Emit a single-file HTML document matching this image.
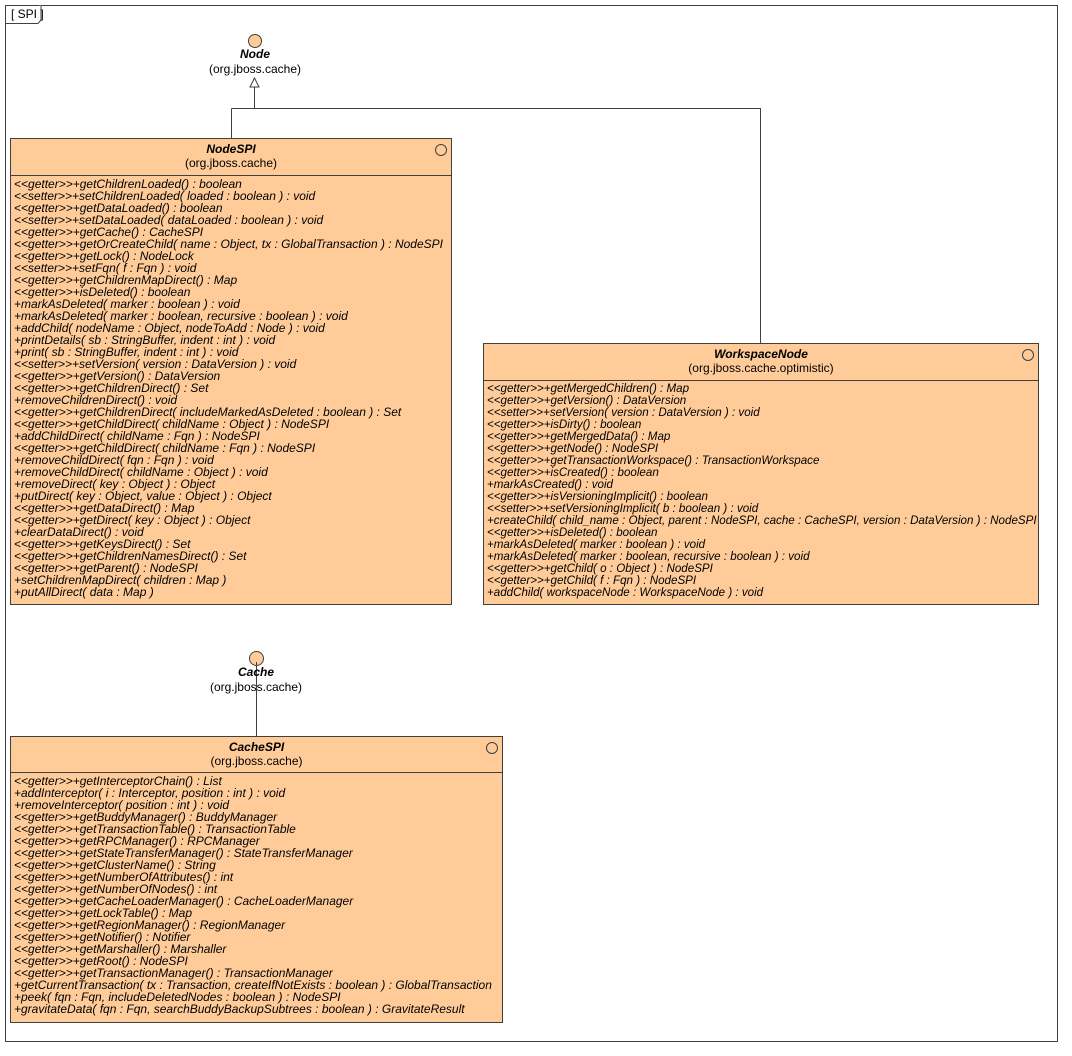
<!DOCTYPE html>
<html><head><meta charset="utf-8"><style>
body{margin:0;width:1072px;height:1056px;background:#fff;position:relative;overflow:hidden;font-family:"Liberation Sans",sans-serif;}
.a{position:absolute}
.box{position:absolute;background:#ffcc99;border:1px solid #404040;box-sizing:border-box}
.hd{position:absolute;left:0;right:0;text-align:center;font-size:12px;color:#000}
.nm{font-weight:bold;font-style:italic}
.sep{position:absolute;left:0;right:0;border-top:1px solid #404040}
.ops{position:absolute;left:3px;font-size:12px;font-style:italic;line-height:12px;white-space:pre;color:#000}
.ic{position:absolute;width:12px;height:12px;border:1px solid #404040;border-radius:50%;box-sizing:border-box}
.ln{position:absolute;background:#404040}
</style></head><body>
<div class="a" style="left:5px;top:5px;width:1053px;height:1037px;border:1px solid #404040;box-sizing:border-box"></div>
<svg class="a" style="left:5px;top:5px" width="40" height="20"><path d="M0.5 18.5 H33 L36 15 V0" fill="#fff" stroke="#404040"/></svg>
<div class="a" style="left:11px;top:7px;font-size:12px">[ SPI ]</div>

<!-- Node interface -->
<div class="a" style="left:248px;top:34px;width:14px;height:14px;border-radius:50%;background:#ffcc99;border:1px solid #404040;box-sizing:border-box"></div>
<div class="a nm" style="left:155px;top:47px;width:200px;text-align:center;font-size:12px">Node</div>
<div class="a" style="left:155px;top:62px;width:200px;text-align:center;font-size:12px">(org.jboss.cache)</div>
<svg class="a" style="left:0;top:0" width="1072" height="1056">
<path d="M254.5 78 L250 87 L259 87 Z" fill="#fff" stroke="#404040"/>
<path d="M254.5 87 V108.5 M231.5 108.5 H760.5 V343 M231.5 108.5 V138" fill="none" stroke="#404040"/>
<path d="M256.5 662 V736" fill="none" stroke="#404040"/>
</svg>

<!-- NodeSPI -->
<div class="box" style="left:10px;top:138px;width:442px;height:467px">
<div class="ic" style="left:424px;top:5px"></div>
<div class="hd nm" style="top:3px">NodeSPI</div>
<div class="hd" style="top:17px">(org.jboss.cache)</div>
<div class="sep" style="top:36px"></div>
<div class="ops" style="top:39px">&lt;&lt;getter&gt;&gt;+getChildrenLoaded() : boolean
&lt;&lt;setter&gt;&gt;+setChildrenLoaded( loaded : boolean ) : void
&lt;&lt;getter&gt;&gt;+getDataLoaded() : boolean
&lt;&lt;setter&gt;&gt;+setDataLoaded( dataLoaded : boolean ) : void
&lt;&lt;getter&gt;&gt;+getCache() : CacheSPI
&lt;&lt;getter&gt;&gt;+getOrCreateChild( name : Object, tx : GlobalTransaction ) : NodeSPI
&lt;&lt;getter&gt;&gt;+getLock() : NodeLock
&lt;&lt;setter&gt;&gt;+setFqn( f : Fqn ) : void
&lt;&lt;getter&gt;&gt;+getChildrenMapDirect() : Map
&lt;&lt;getter&gt;&gt;+isDeleted() : boolean
+markAsDeleted( marker : boolean ) : void
+markAsDeleted( marker : boolean, recursive : boolean ) : void
+addChild( nodeName : Object, nodeToAdd : Node ) : void
+printDetails( sb : StringBuffer, indent : int ) : void
+print( sb : StringBuffer, indent : int ) : void
&lt;&lt;setter&gt;&gt;+setVersion( version : DataVersion ) : void
&lt;&lt;getter&gt;&gt;+getVersion() : DataVersion
&lt;&lt;getter&gt;&gt;+getChildrenDirect() : Set
+removeChildrenDirect() : void
&lt;&lt;getter&gt;&gt;+getChildrenDirect( includeMarkedAsDeleted : boolean ) : Set
&lt;&lt;getter&gt;&gt;+getChildDirect( childName : Object ) : NodeSPI
+addChildDirect( childName : Fqn ) : NodeSPI
&lt;&lt;getter&gt;&gt;+getChildDirect( childName : Fqn ) : NodeSPI
+removeChildDirect( fqn : Fqn ) : void
+removeChildDirect( childName : Object ) : void
+removeDirect( key : Object ) : Object
+putDirect( key : Object, value : Object ) : Object
&lt;&lt;getter&gt;&gt;+getDataDirect() : Map
&lt;&lt;getter&gt;&gt;+getDirect( key : Object ) : Object
+clearDataDirect() : void
&lt;&lt;getter&gt;&gt;+getKeysDirect() : Set
&lt;&lt;getter&gt;&gt;+getChildrenNamesDirect() : Set
&lt;&lt;getter&gt;&gt;+getParent() : NodeSPI
+setChildrenMapDirect( children : Map )
+putAllDirect( data : Map )</div>
</div>

<!-- WorkspaceNode -->
<div class="box" style="left:483px;top:343px;width:556px;height:262px">
<div class="ic" style="left:538px;top:5px"></div>
<div class="hd nm" style="top:3px">WorkspaceNode</div>
<div class="hd" style="top:17px">(org.jboss.cache.optimistic)</div>
<div class="sep" style="top:36px"></div>
<div class="ops" style="top:39px;font-size:11.6px">&lt;&lt;getter&gt;&gt;+getMergedChildren() : Map
&lt;&lt;getter&gt;&gt;+getVersion() : DataVersion
&lt;&lt;setter&gt;&gt;+setVersion( version : DataVersion ) : void
&lt;&lt;getter&gt;&gt;+isDirty() : boolean
&lt;&lt;getter&gt;&gt;+getMergedData() : Map
&lt;&lt;getter&gt;&gt;+getNode() : NodeSPI
&lt;&lt;getter&gt;&gt;+getTransactionWorkspace() : TransactionWorkspace
&lt;&lt;getter&gt;&gt;+isCreated() : boolean
+markAsCreated() : void
&lt;&lt;getter&gt;&gt;+isVersioningImplicit() : boolean
&lt;&lt;setter&gt;&gt;+setVersioningImplicit( b : boolean ) : void
+createChild( child_name : Object, parent : NodeSPI, cache : CacheSPI, version : DataVersion ) : NodeSPI
&lt;&lt;getter&gt;&gt;+isDeleted() : boolean
+markAsDeleted( marker : boolean ) : void
+markAsDeleted( marker : boolean, recursive : boolean ) : void
&lt;&lt;getter&gt;&gt;+getChild( o : Object ) : NodeSPI
&lt;&lt;getter&gt;&gt;+getChild( f : Fqn ) : NodeSPI
+addChild( workspaceNode : WorkspaceNode ) : void</div>
</div>

<!-- Cache interface -->
<div class="a" style="left:249px;top:651px;width:15px;height:15px;border-radius:50%;background:#ffcc99;border:1px solid #404040;box-sizing:border-box"></div>
<div class="ln" style="left:256px;top:662px;width:1px;height:10px"></div>
<div class="a nm" style="left:156px;top:665px;width:200px;text-align:center;font-size:12px">Cache</div>
<div class="a" style="left:156px;top:680px;width:200px;text-align:center;font-size:12px">(org.jboss.cache)</div>
<div class="ln" style="left:256px;top:678px;width:1px;height:58px"></div>

<!-- CacheSPI -->
<div class="box" style="left:10px;top:736px;width:493px;height:287px">
<div class="ic" style="left:475px;top:5px"></div>
<div class="hd nm" style="top:3px">CacheSPI</div>
<div class="hd" style="top:17px">(org.jboss.cache)</div>
<div class="sep" style="top:35px"></div>
<div class="ops" style="top:38px">&lt;&lt;getter&gt;&gt;+getInterceptorChain() : List
+addInterceptor( i : Interceptor, position : int ) : void
+removeInterceptor( position : int ) : void
&lt;&lt;getter&gt;&gt;+getBuddyManager() : BuddyManager
&lt;&lt;getter&gt;&gt;+getTransactionTable() : TransactionTable
&lt;&lt;getter&gt;&gt;+getRPCManager() : RPCManager
&lt;&lt;getter&gt;&gt;+getStateTransferManager() : StateTransferManager
&lt;&lt;getter&gt;&gt;+getClusterName() : String
&lt;&lt;getter&gt;&gt;+getNumberOfAttributes() : int
&lt;&lt;getter&gt;&gt;+getNumberOfNodes() : int
&lt;&lt;getter&gt;&gt;+getCacheLoaderManager() : CacheLoaderManager
&lt;&lt;getter&gt;&gt;+getLockTable() : Map
&lt;&lt;getter&gt;&gt;+getRegionManager() : RegionManager
&lt;&lt;getter&gt;&gt;+getNotifier() : Notifier
&lt;&lt;getter&gt;&gt;+getMarshaller() : Marshaller
&lt;&lt;getter&gt;&gt;+getRoot() : NodeSPI
&lt;&lt;getter&gt;&gt;+getTransactionManager() : TransactionManager
+getCurrentTransaction( tx : Transaction, createIfNotExists : boolean ) : GlobalTransaction
+peek( fqn : Fqn, includeDeletedNodes : boolean ) : NodeSPI
+gravitateData( fqn : Fqn, searchBuddyBackupSubtrees : boolean ) : GravitateResult</div>
</div>
</body></html>
